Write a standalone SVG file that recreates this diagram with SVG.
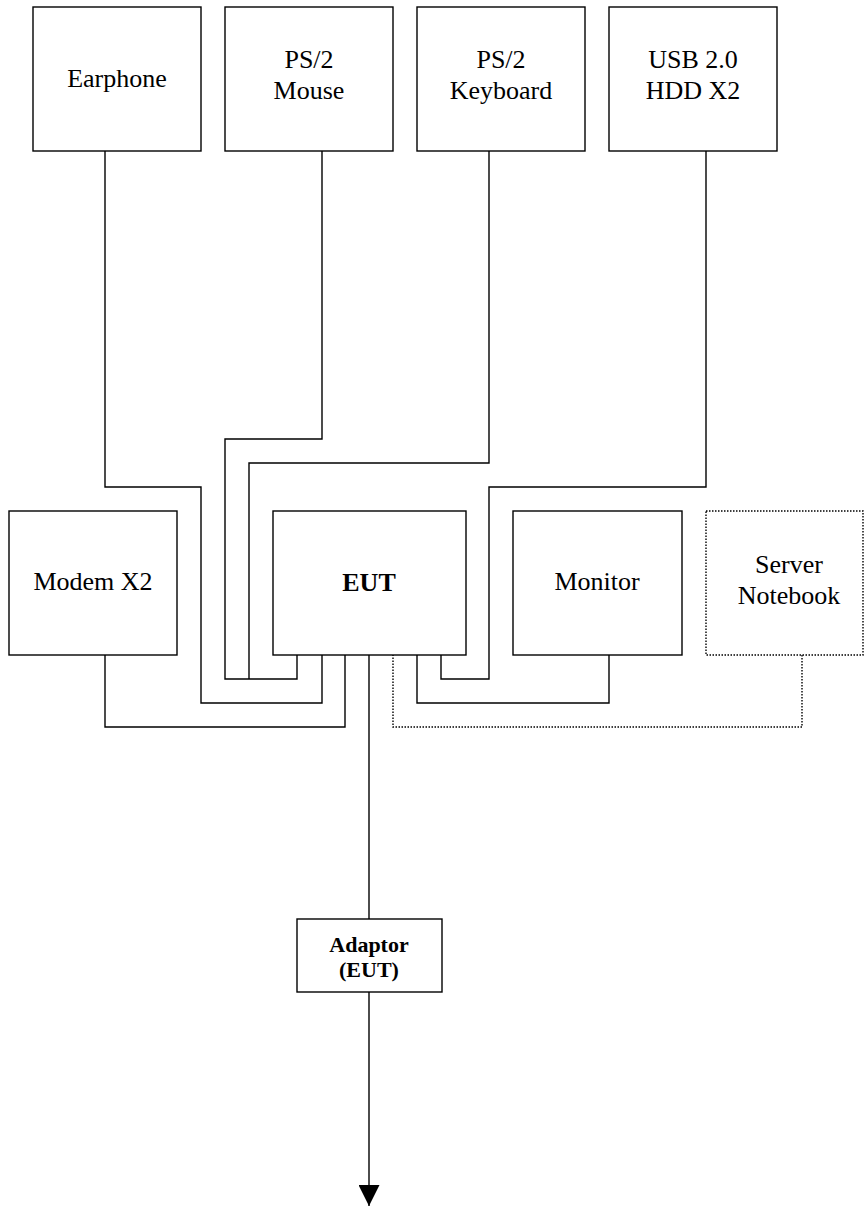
<svg xmlns="http://www.w3.org/2000/svg" width="865" height="1207" viewBox="0 0 865 1207">
<style>
.box{fill:#fff;stroke:#000;stroke-width:1.4}
.dot{fill:#fff;stroke:#000;stroke-width:1.4;stroke-dasharray:1.5 1.5}
.w{fill:none;stroke:#000;stroke-width:1.4}
.wd{fill:none;stroke:#000;stroke-width:1.4;stroke-dasharray:1.5 1.5}
.t{font-family:"Liberation Serif","Times New Roman",serif;font-size:26px;text-anchor:middle;fill:#000}
.b{font-weight:bold}
.s{font-size:22px}
</style>
<defs>
<marker id="arr" markerWidth="21" markerHeight="21" refX="21" refY="10.5" orient="auto" markerUnits="userSpaceOnUse" viewBox="0 0 21 21">
<path d="M0,0 L21,10.5 L0,21 Z" fill="#000"/>
</marker>
</defs>
<rect width="865" height="1207" fill="#fff"/>
<g id="connectors">
<polyline class="w" points="105,151 105,487 201,487 201,703 322,703 322,655"/>
<polyline class="w" points="322,151 322,439 225,439 225,679 297,679 297,655"/>
<polyline class="w" points="489,151 489,463 249,463 249,679"/>
<polyline class="w" points="706,151 706,487 489,487 489,679 441,679 441,655"/>
<polyline class="w" points="609,655 609,703 417,703 417,655"/>
<polyline class="w" points="105,655 105,727 345,727 345,655"/>
<polyline class="wd" points="802,655 802,727 393,727 393,655"/>
<line class="w" x1="369" y1="655" x2="369" y2="919"/>
<line class="w" x1="369" y1="992" x2="369" y2="1206" marker-end="url(#arr)"/>
</g>
<g id="earphone"><rect class="box" x="33" y="7" width="168" height="144"/><text class="t" x="117" y="87">Earphone</text></g>
<g id="mouse"><rect class="box" x="225" y="7" width="168" height="144"/><text class="t" x="309" y="68">PS/2</text><text class="t" x="309" y="99">Mouse</text></g>
<g id="keyboard"><rect class="box" x="417" y="7" width="168" height="144"/><text class="t" x="501" y="68">PS/2</text><text class="t" x="501" y="99">Keyboard</text></g>
<g id="usb"><rect class="box" x="609" y="7" width="168" height="144"/><text class="t" x="693" y="68">USB 2.0</text><text class="t" x="693" y="99">HDD X2</text></g>
<g id="modem"><rect class="box" x="9" y="511" width="168" height="144"/><text class="t" x="93" y="590">Modem X2</text></g>
<g id="eut"><rect class="box" x="273" y="511" width="193" height="144"/><text class="t b" x="369" y="591">EUT</text></g>
<g id="monitor"><rect class="box" x="513" y="511" width="169" height="144"/><text class="t" x="597" y="590">Monitor</text></g>
<g id="server"><rect class="dot" x="706" y="511" width="157" height="144"/><text class="t" x="789" y="573">Server</text><text class="t" x="789" y="604">Notebook</text></g>
<g id="adaptor"><rect class="box" x="297" y="919" width="145" height="73"/><text class="t b s" x="369" y="952">Adaptor</text><text class="t b s" x="369" y="977">(EUT)</text></g>
</svg>
